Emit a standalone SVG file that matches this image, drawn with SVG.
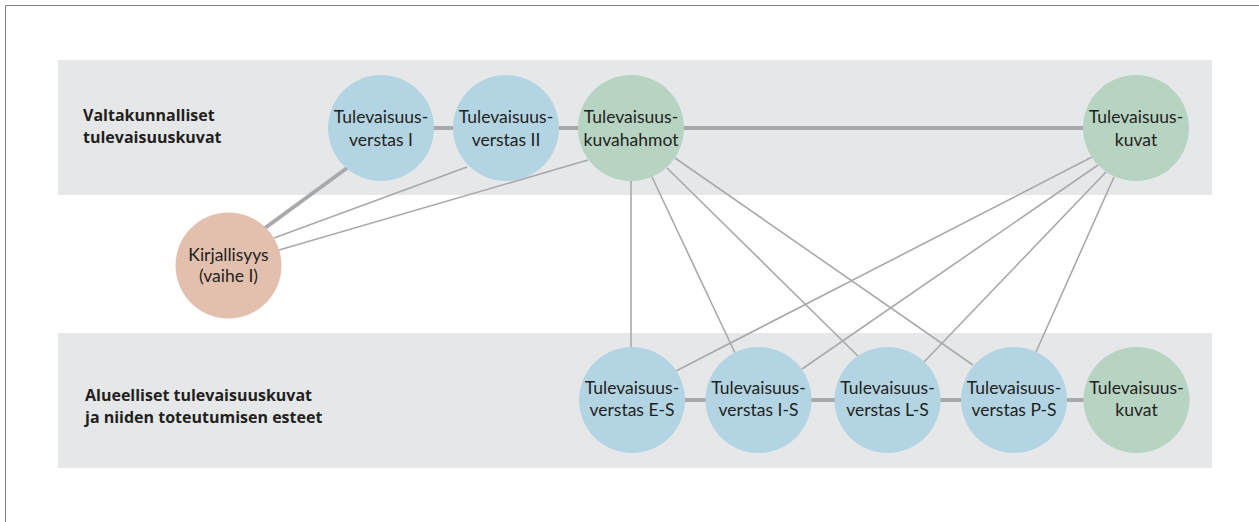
<svg xmlns="http://www.w3.org/2000/svg" width="1259" height="522" viewBox="0 0 1259 522">
<style>
.band{fill:#e6e7e8}
.blue{fill:#b3d4e3}
.green{fill:#b7d3c2}
.salmon{fill:#e3bfae}
.thick{stroke:#a7a9ac;stroke-width:4;fill:none}
.thin{stroke:#a7a9ac;stroke-width:1.6;fill:none}
.nt{font-family:Lato,"Open Sans",sans-serif;font-size:17.5px;fill:#231f20;text-anchor:middle}
.lt{font-family:"Open Sans","Noto Sans",sans-serif;font-size:16px;font-weight:bold;fill:#231f20}
</style>
<rect width="1259" height="522" fill="#ffffff"/>
<path d="M5.5,522 V5.5 H1259" fill="none" stroke="#808080" stroke-width="1"/>
<g id="bands">
<rect class="band" x="58" y="60" width="1154" height="135"/>
<rect class="band" x="58" y="333" width="1154" height="135"/>
<text class="lt" x="83" y="121">Valtakunnalliset</text>
<text class="lt" x="83" y="143">tulevaisuuskuvat</text>
<text class="lt" x="85" y="401">Alueelliset tulevaisuuskuvat</text>
<text class="lt" x="85" y="423">ja niiden toteutumisen esteet</text>
</g>
<g id="connectors">
<line class="thick" x1="381" y1="128" x2="1136" y2="128"/>
<line class="thick" x1="632" y1="400" x2="1136" y2="400"/>
<line class="thick" x1="347" y1="168" x2="265" y2="228"/>
<line class="thin" x1="467" y1="167" x2="274" y2="238"/>
<line class="thin" x1="588" y1="160" x2="279" y2="250"/>
<line class="thin" x1="631" y1="180" x2="631" y2="348"/>
<line class="thin" x1="652" y1="177" x2="735" y2="353"/>
<line class="thin" x1="667" y1="168" x2="858" y2="356"/>
<line class="thin" x1="675" y1="158" x2="973" y2="365"/>
<line class="thin" x1="1092" y1="157" x2="676" y2="371"/>
<line class="thin" x1="1098" y1="165" x2="802" y2="369"/>
<line class="thin" x1="1106" y1="172" x2="924" y2="362"/>
<line class="thin" x1="1114" y1="177" x2="1036" y2="352"/>
</g>
<g id="n-verstas1"><circle class="blue" cx="381" cy="128" r="53"/><text class="nt" x="381" y="123">Tulevaisuus-</text><text class="nt" x="381" y="146">verstas I</text></g>
<g id="n-verstas2"><circle class="blue" cx="506" cy="128" r="53"/><text class="nt" x="506" y="123">Tulevaisuus-</text><text class="nt" x="506" y="146">verstas II</text></g>
<g id="n-kuvahahmot"><circle class="green" cx="631" cy="128" r="53"/><text class="nt" x="631" y="123">Tulevaisuus-</text><text class="nt" x="631" y="146">kuvahahmot</text></g>
<g id="n-kuvat-top"><circle class="green" cx="1136" cy="128" r="53"/><text class="nt" x="1136" y="123">Tulevaisuus-</text><text class="nt" x="1136" y="146">kuvat</text></g>
<g id="n-kirjallisuus"><circle class="salmon" cx="228.5" cy="265.5" r="53"/><text class="nt" x="228.5" y="261">Kirjallisyys</text><text class="nt" x="228.5" y="282">(vaihe I)</text></g>
<g id="n-es"><circle class="blue" cx="632" cy="400" r="53"/><text class="nt" x="632" y="393.5">Tulevaisuus-</text><text class="nt" x="632" y="416">verstas E-S</text></g>
<g id="n-is"><circle class="blue" cx="758.5" cy="400" r="53"/><text class="nt" x="758.5" y="393.5">Tulevaisuus-</text><text class="nt" x="758.5" y="416">verstas I-S</text></g>
<g id="n-ls"><circle class="blue" cx="887.5" cy="400" r="53"/><text class="nt" x="887.5" y="393.5">Tulevaisuus-</text><text class="nt" x="887.5" y="416">verstas L-S</text></g>
<g id="n-ps"><circle class="blue" cx="1014" cy="400" r="53"/><text class="nt" x="1014" y="393.5">Tulevaisuus-</text><text class="nt" x="1014" y="416">verstas P-S</text></g>
<g id="n-kuvat-bottom"><circle class="green" cx="1136.5" cy="400" r="53"/><text class="nt" x="1136.5" y="393.5">Tulevaisuus-</text><text class="nt" x="1136.5" y="416">kuvat</text></g>
</svg>
